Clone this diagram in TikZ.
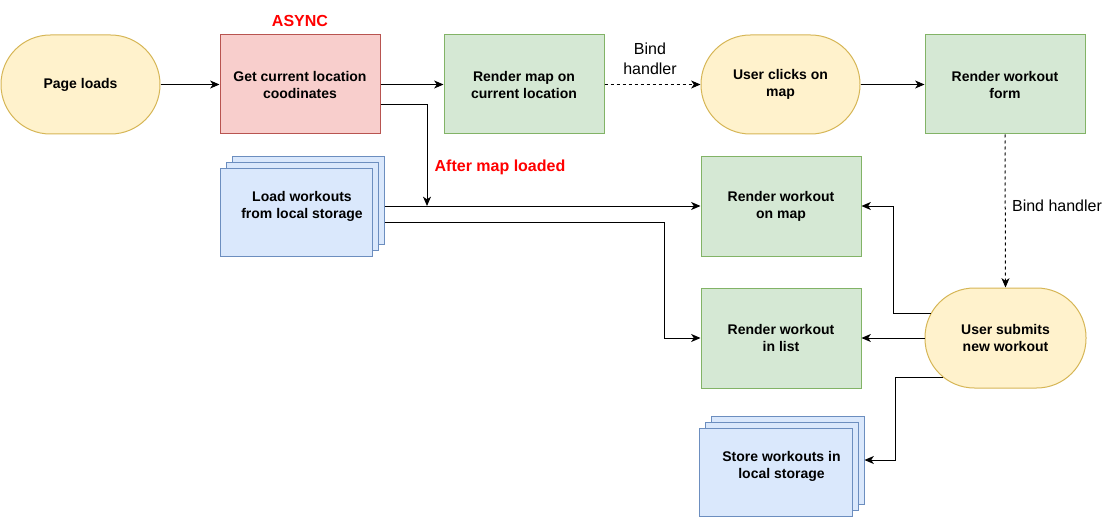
\documentclass[tikz,border=0pt]{standalone}
\usepackage{fontspec}
\setmainfont{Liberation Sans}
\usetikzlibrary{arrows.meta,calc}
\definecolor{yfill}{HTML}{FFF2CC}
\definecolor{ystroke}{HTML}{D6B656}
\definecolor{rfill}{HTML}{F8CECC}
\definecolor{rstroke}{HTML}{B85450}
\definecolor{gfill}{HTML}{D5E8D4}
\definecolor{gstroke}{HTML}{82B366}
\definecolor{bfill}{HTML}{DAE8FC}
\definecolor{bstroke}{HTML}{6C8EBF}
\definecolor{lblred}{HTML}{FF0000}
\tikzset{
  box/.style={draw, line width=0.75pt, minimum width=120pt, minimum height=75pt, inner sep=0pt, align=center,
    font=\fontsize{10.5pt}{12.75pt}\selectfont\bfseries},
  stadium/.style={box, fill=yfill, draw=ystroke, rounded corners=37pt},
  redbox/.style={box, fill=rfill, draw=rstroke},
  greenbox/.style={box, fill=gfill, draw=gstroke},
  sheet/.style={box, fill=bfill, draw=bstroke, minimum width=114pt, minimum height=66pt},
  arr/.style={-{Stealth[length=7pt,width=6pt,inset=2pt]}, line width=0.75pt, black},
  dasharr/.style={arr, dash pattern=on 2.25pt off 2.25pt},
  lbl/.style={font=\fontsize{12pt}{15pt}\selectfont, align=center, inner sep=0pt},
  redlbl/.style={font=\fontsize{12pt}{15pt}\selectfont\bfseries, text=lblred, inner sep=0pt}
}
\begin{document}
\begin{tikzpicture}[x=0.75pt, y=-0.75pt]
\useasboundingbox (0,0) rectangle (1111,517);
% top row
\node[stadium, minimum width=119.25pt, minimum height=74.25pt] (page) at (80.5,84.5) {Page loads};
\node[redbox, minimum height=74.25pt] (getloc) at (300,84.5) {Get current location\\coodinates};
\node[greenbox, minimum height=74.25pt] (rmap) at (524,84.5) {Render map on\\current location};
\node[stadium, minimum width=119.25pt, minimum height=74.25pt] (clicks) at (780.5,84.5) {User clicks on\\map};
\node[greenbox, minimum height=74.25pt] (form) at (1005,84.5) {Render workout\\form};
\node[redlbl] (async) at (300,21) {ASYNC};
% load stack (back to front)
\node[sheet] (loadc) at (308,200) {};
\node[sheet] (loadb) at (302,206) {};
\node[sheet] (loada) at (296,212) {};
\node[box, draw=none, minimum width=10pt, minimum height=10pt] (loadtxt) at (302,206.5) {Load workouts\\from local storage};
% middle column
\node[greenbox] (onmap) at (781,206) {Render workout\\on map};
\node[greenbox] (list) at (781,338) {Render workout\\in list};
\node[stadium, minimum width=120.75pt] (submit) at (1005.5,338) {User submits\\new workout};
% store stack (back to front)
\node[sheet, minimum width=114.75pt] (storec) at (787.5,460) {};
\node[sheet, minimum width=114.75pt] (storeb) at (781.5,466) {};
\node[sheet, minimum width=114.75pt] (storea) at (775.5,472) {};
\node[box, draw=none, minimum width=10pt, minimum height=10pt] (storetxt) at (781.5,466.5) {Store workouts in\\local storage};
% labels
\node[lbl] (bind1) at (650,59) {Bind\\handler};
\node[lbl] (bind2) at (1057,206) {Bind handler};
\node[redlbl] (after) at (500,167) {After map loaded};
% connectors
\coordinate (merge) at (427,206);
\draw[arr] (page.east) -- (getloc.west);
\draw[arr] (getloc.east) -- (rmap.west);
\draw[dasharr] (rmap.east) -- (clicks.west);
\draw[arr] (clicks.east) -- (form.west);
\draw[dasharr] (form.south) -- (submit.north);
\draw[arr] ($(getloc.east)+(0,20.5)$) -| (merge);
\draw[arr] (loadc.east |- onmap.west) -- (onmap.west);
\draw[arr] ($(loadc.east)+(0,22)$) -| ($(list.west)+(-36,0)$) -- (list.west);
\draw[arr] ($(submit.west)+(6,-25)$) -| ($(onmap.east)+(32,0)$) -- (onmap.east);
\draw[arr] (submit.west) -- (list.east);
\draw[arr] ($(submit.west)+(18.5,39)$) -| ($(storec.east)+(31,0)$) -- (storec.east);
\end{tikzpicture}
\end{document}
